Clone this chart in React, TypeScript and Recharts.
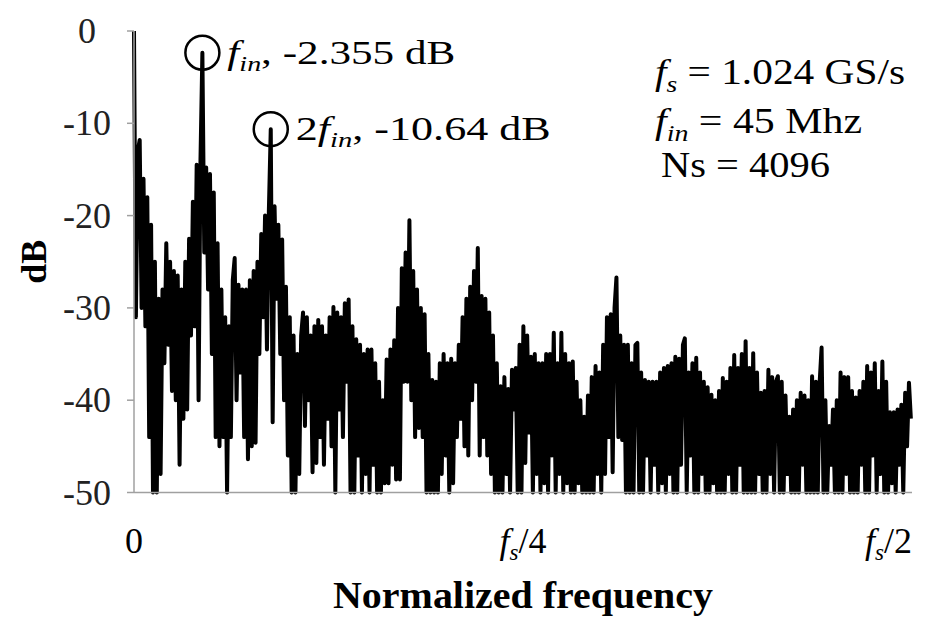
import { LineChart, Line, XAxis, YAxis, ReferenceDot, Label } from 'recharts';

const FONT = '"Liberation Serif", "Times New Roman", serif';
const AXIS_GRAY = '#a0a0a0';

// FFT spectrum, 1.25 MHz per point (fs = 1.024 GS/s, Ns = 4096)
const BIN_MHZ = 1.25;
const FIN_MHZ = 45;
const FIN_DB = -2.355;
const H2_MHZ = 90;
const H2_DB = -10.64;

// 0 - 124 MHz
const bandA = [
  0, -31, -13, -11.8, -30, -16, -32, -18, -44, -21,
  -50, -25, -50, -29, -48, -28, -36, -23, -34, -25,
  -39, -26, -40, -26.5, -47, -28, -42, -25, -41, -22.5,
  -33, -18.5, -32, -14.5, -40, -14, FIN_DB, -24, -14.8, -28,
  -15.5, -35, -17.5, -44, -23, -45, -28, -44, -31, -50,
  -32, -44, -27, -24.6, -40, -27.5, -37, -28, -44, -28,
  -46.4, -27, -45, -26, -44.6, -25, -35, -22, -31, -20,
  -34.5, -19.5, H2_DB, -42.4, -19, -29, -21, -35, -22.6, -40,
  -27.7, -46, -31, -50, -33, -50, -35, -48, -33, -30.5,
  -42.8, -31, -40, -33, -47.8, -32, -46.8, -31.3, -44, -32,
];

// 125 - 249 MHz
const bandB = [
  -47, -33, -42, -31, -45, -29.9, -50, -30.5, -41, -31,
  -44, -29.5, -38, -29.1, -50, -32, -50, -33.4, -46, -34,
  -50, -35, -48, -34.5, -50, -34.5, -47, -36, -50, -38,
  -50, -40, -49, -35.6, -49, -34.5, -47, -33.5, -48.6, -30,
  -48.6, -25.7, -38, -24, -38, -20.5, -40, -26, -44, -28,
  -43, -30, -44, -30.7, -50, -35, -50, -37.8, -50, -38,
  -50, -36, -48, -35, -46, -36, -50, -35.5, -49, -36,
  -44, -34, -42, -31, -45, -29, -46, -27.7, -40, -26,
  -38, -23.5, -46, -28.7, -44, -29, -46, -30.5, -48, -33,
  -50, -36, -50, -38.5, -50, -37.5, -48, -38.8, -50, -36.7,
];

// 250 - 374 MHz
const bandC = [
  -41, -36.5, -50, -34, -50, -32, -46.8, -33, -43.5, -35.3,
  -50, -35, -48, -36, -50, -36, -49, -35, -50, -35,
  -46, -32.7, -50, -36, -48, -32.7, -50, -35, -49, -36,
  -50, -35.8, -50, -38, -49, -40, -50, -41.8, -50, -39.5,
  -50, -37.5, -50, -36.3, -48, -37, -50, -34, -48, -31,
  -44, -30.7, -47.8, -30, -26.7, -44, -33, -44.3, -34, -50,
  -34, -50, -36, -50, -34, -33.8, -50, -37, -50, -37.8,
  -46, -38, -50, -38, -47, -38, -50, -37, -49, -36.5,
  -50, -36.3, -48, -36, -50, -35.3, -50, -35.5, -47, -34,
  -33.3, -50, -37, -46, -36, -50, -35.4, -50, -37, -48,
];

// 375 - 511 MHz
const bandD = [
  -38, -50, -38.6, -50, -39.4, -49, -40, -50, -39, -50,
  -37.6, -50, -38, -48, -36.5, -50, -35.1, -50, -36.5, -47,
  -35, -50, -33.6, -50, -36.5, -50, -34.9, -50, -37, -48,
  -39.2, -50, -39, -50, -36.7, -48, -37.5, -50, -38, -37.4,
  -50, -38, -50, -39.5, -48, -41.8, -50, -41, -50, -40,
  -50, -39.2, -47, -39.5, -50, -40, -50, -37.4, -50, -38,
  -50, -38, -34.3, -50, -40, -50, -42.8, -47, -41, -50,
  -40, -50, -37, -50, -37.5, -48, -37.5, -50, -39, -50,
  -39.7, -50, -39, -47, -38, -50, -36.3, -50, -37, -46,
  -36, -50, -39, -48, -35.8, -50, -38, -50, -41.3, -49,
  -41.3, -50, -41, -47, -40.5, -50, -39.2, -45, -38.1, -42,
];

const spectrumDb = [...bandA, ...bandB, ...bandC, ...bandD];
const data = spectrumDb.map((db, i) => ({ f: i * BIN_MHZ, db }));

const yTicks = [0, -10, -20, -30, -40, -50];
const xTicks = [0, 256, 512];
const xTickDivisors: Record<number, string> = { 256: '4', 512: '2' };

function FreqTick({ x, y, payload }: any) {
  const v = payload.value;
  const baseY = y + 60;
  if (v === 0) {
    return (
      <text x={x} y={baseY} textAnchor="middle" fontFamily={FONT} fontSize={36} fill="#000">0</text>
    );
  }
  return (
    <text x={x} y={baseY} textAnchor={v === 512 ? 'end' : 'middle'} fontFamily={FONT} fontSize={36} fill="#000">
      <tspan fontStyle="italic">f</tspan>
      <tspan fontStyle="italic" fontSize={23} dy={7}>s</tspan>
      <tspan dy={-7}>/{xTickDivisors[v]}</tspan>
    </text>
  );
}

function DbTick({ x, y, payload }: any) {
  return (
    <text x={x - 40} y={y + 12} textAnchor="middle" fontFamily={FONT} fontSize={36} fill="#222">
      {payload.value}
    </text>
  );
}

function PeakMarker({ cx, cy, prefix, value, width }: any) {
  return (
    <g>
      <circle cx={cx} cy={cy} r={17} fill="none" stroke="#000" strokeWidth={2.5} />
      <text
        x={cx + 25}
        y={cy + 11}
        fontFamily={FONT}
        fontSize={34}
        fill="#000"
        textLength={width}
        lengthAdjust="spacingAndGlyphs"
      >
        {prefix}
        <tspan fontStyle="italic">f</tspan>
        <tspan fontStyle="italic" fontSize={22} dy={7}>in</tspan>
        <tspan dy={-7}>, {value} dB</tspan>
      </text>
    </g>
  );
}

export default function App() {
  return (
    <div style={{ position: 'absolute', left: 0, top: 0, width: 929, height: 619, background: '#fff' }}>
      <LineChart width={929} height={619} data={data} margin={{ top: 31, right: 17, bottom: 0, left: 0 }}>
        <XAxis
          dataKey="f"
          type="number"
          domain={[0, 512]}
          ticks={xTicks}
          height={126.5}
          tickSize={0}
          tickMargin={0}
          tickLine={false}
          axisLine={{ stroke: AXIS_GRAY, strokeWidth: 1.5 }}
          tick={FreqTick}
        >
          <Label
            content={({ viewBox }: any) => (
              <text
                x={viewBox.x + viewBox.width / 2}
                y={viewBox.y + 115}
                textAnchor="middle"
                fontFamily={FONT}
                fontWeight="bold"
                fontSize={37}
                fill="#000"
                textLength={380}
                lengthAdjust="spacingAndGlyphs"
              >
                Normalized frequency
              </text>
            )}
          />
        </XAxis>
        <YAxis
          type="number"
          domain={[-50, 0]}
          ticks={yTicks}
          width={134}
          tickSize={7}
          tickMargin={0}
          axisLine={{ stroke: AXIS_GRAY, strokeWidth: 1.5 }}
          tickLine={{ stroke: AXIS_GRAY, strokeWidth: 1.5 }}
          tick={DbTick}
        >
          <Label
            content={({ viewBox }: any) => {
              const cx = viewBox.x + 46;
              const cy = viewBox.y + viewBox.height / 2;
              return (
                <text
                  x={cx}
                  y={cy}
                  transform={`rotate(-90, ${cx}, ${cy})`}
                  textAnchor="middle"
                  fontFamily={FONT}
                  fontWeight="bold"
                  fontSize={36}
                  fill="#000"
                >
                  dB
                </text>
              );
            }}
          />
        </YAxis>
        <Line
          type="linear"
          dataKey="db"
          stroke="#000"
          strokeWidth={4}
          strokeLinejoin="round"
          dot={false}
          isAnimationActive={false}
        />
        <ReferenceDot
          x={FIN_MHZ}
          y={FIN_DB}
          r={17}
          shape={(p: any) => <PeakMarker cx={p.cx} cy={p.cy} prefix="" value={FIN_DB} width={228} />}
        />
        <ReferenceDot
          x={H2_MHZ}
          y={H2_DB}
          r={17}
          shape={(p: any) => <PeakMarker cx={p.cx} cy={p.cy} prefix="2" value={H2_DB} width={255} />}
        />
      </LineChart>
      <svg width={929} height={619} style={{ position: 'absolute', left: 0, top: 0, pointerEvents: 'none' }}>
        <g fontFamily={FONT} fontSize={36} fill="#000">
          <text x={655} y={84} textLength={250} lengthAdjust="spacingAndGlyphs">
            <tspan fontStyle="italic">f</tspan>
            <tspan fontStyle="italic" fontSize={24} dy={8}>s</tspan>
            <tspan dy={-8}> = 1.024 GS/s</tspan>
          </text>
          <text x={655} y={133} textLength={207} lengthAdjust="spacingAndGlyphs">
            <tspan fontStyle="italic">f</tspan>
            <tspan fontStyle="italic" fontSize={24} dy={8}>in</tspan>
            <tspan dy={-8}> = 45 Mhz</tspan>
          </text>
          <text x={661} y={177} textLength={169} lengthAdjust="spacingAndGlyphs">Ns = 4096</text>
        </g>
      </svg>
    </div>
  );
}
